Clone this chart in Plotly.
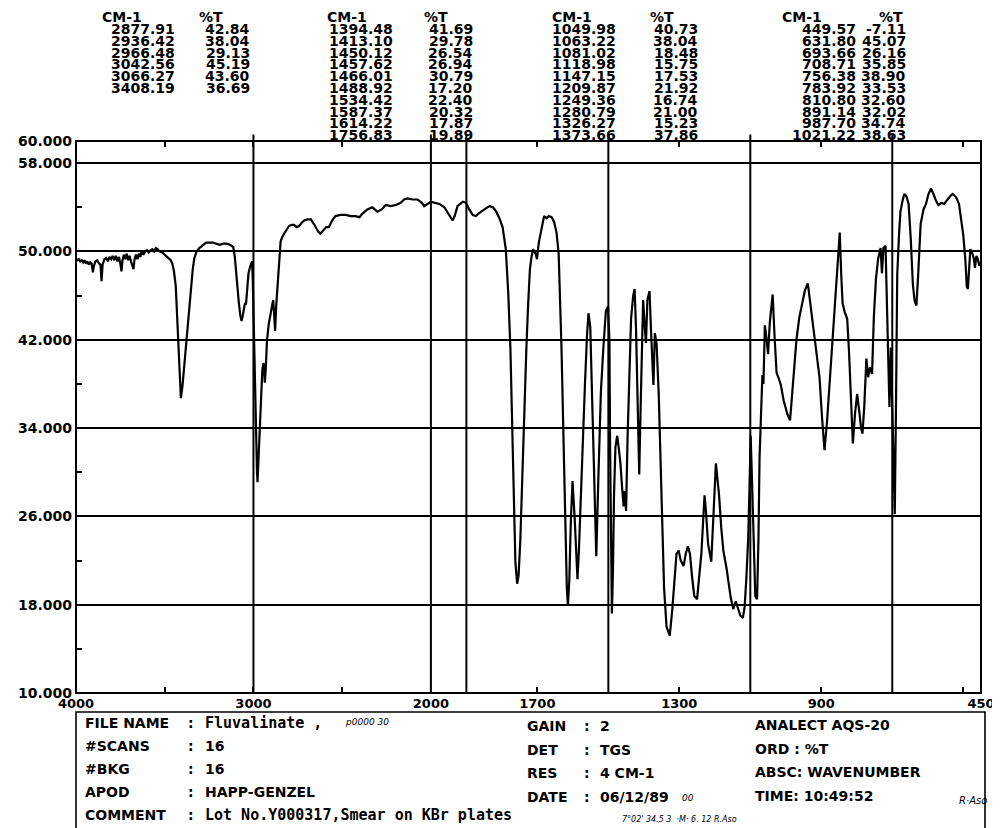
import plotly.graph_objects as go

# ---------------- spectrum (wavenumber cm-1, %T) ----------------
wavenumber = [
    4000, 3992, 3984, 3976, 3968, 3960, 3952, 3944, 3936, 3928, 3920, 3912, 3905, 3899, 3890,
    3880, 3870, 3862, 3856, 3850, 3840, 3830, 3820, 3812, 3802, 3794, 3784, 3776, 3766, 3758,
    3750, 3744, 3738, 3730, 3722, 3714, 3706, 3698, 3690, 3682, 3676, 3670, 3662, 3654, 3646,
    3638, 3630, 3620, 3610, 3600, 3590, 3580, 3570, 3560, 3550, 3540, 3528, 3514, 3500, 3488,
    3476, 3466, 3457, 3448, 3438, 3428, 3418, 3409, 3400, 3390, 3380, 3371, 3362, 3352, 3342,
    3333, 3320, 3305, 3285, 3267, 3248, 3228, 3210, 3190, 3170, 3152, 3132, 3114, 3105, 3099,
    3090, 3082, 3074, 3067, 3060, 3054, 3048, 3042, 3036, 3028, 3019, 3012, 3008, 3004, 2996,
    2990, 2985, 2980, 2977, 2972, 2967, 2961, 2956, 2950, 2943, 2936, 2930, 2924, 2914, 2905,
    2896, 2889, 2884, 2878, 2872, 2866, 2860, 2853, 2847, 2838, 2828, 2814, 2800, 2785, 2771,
    2757, 2743, 2728, 2714, 2695, 2676, 2660, 2647, 2635, 2623, 2605, 2590, 2575, 2557, 2538,
    2509, 2481, 2453, 2425, 2402, 2387, 2358, 2330, 2302, 2277, 2255, 2226, 2198, 2170, 2151,
    2132, 2104, 2075, 2051, 2038, 2019, 2000,
    1976, 1962, 1953, 1945, 1939, 1933, 1925, 1910, 1901, 1892, 1882, 1873, 1863, 1849, 1835,
    1825, 1816, 1807, 1798, 1789, 1782, 1776, 1771, 1766, 1762, 1757, 1753, 1748, 1743, 1737,
    1731, 1726, 1721, 1717, 1712, 1705, 1701, 1696, 1688, 1681, 1674, 1668, 1660, 1653, 1646,
    1640, 1632, 1627, 1622, 1617, 1614, 1610, 1606, 1601, 1595, 1590, 1587, 1583, 1578, 1572,
    1566, 1560, 1556, 1551, 1547, 1542, 1538, 1534, 1528, 1521, 1514, 1507, 1501, 1497, 1495,
    1493, 1490, 1487, 1484, 1480, 1475, 1470, 1466, 1461, 1457, 1454, 1450, 1446, 1441, 1436,
    1430, 1426, 1422, 1418, 1413, 1409, 1405, 1402, 1398, 1394, 1390, 1384, 1380, 1377, 1373,
    1369, 1364, 1358, 1353, 1348, 1343, 1336, 1327, 1320, 1314, 1308, 1302, 1296, 1288, 1282,
    1276, 1270, 1264, 1258, 1250, 1244, 1238, 1234, 1229, 1225, 1219, 1210, 1205, 1201, 1197,
    1193, 1188, 1182, 1176, 1167, 1160, 1155, 1148, 1141, 1135, 1128, 1121, 1116, 1111, 1106,
    1102, 1099, 1095, 1090, 1086, 1081, 1077, 1074, 1069, 1066, 1063, 1059, 1054, 1050, 1045,
    1037, 1032, 1026, 1021, 1014, 1006, 996, 988, 980, 970, 962, 955, 946, 938, 930,
    923, 914, 905, 898, 891, 884, 877, 870, 864, 858, 853, 848, 844, 840, 834,
    827, 822, 817, 811, 805, 799, 793, 788, 784, 779, 773, 768, 763, 757, 752,
    746, 740, 733, 729, 725, 719, 715, 711, 708, 704, 700, 696, 693, 690, 686,
    681, 677, 671, 666, 660, 654, 648, 642, 637, 632, 627, 620, 612, 605, 598,
    591, 584, 577, 570, 562, 554, 545, 537, 530, 520, 512, 506, 500, 494, 490,
    487, 484, 480, 475, 470, 467, 463, 459, 455, 450,
]
transmittance = [
    49.3, 49.2, 49.3, 49.1, 49.2, 49.0, 49.2, 48.9, 49.1, 48.8, 49.0, 48.9, 48.1, 48.7, 49.1,
    49.2, 48.9, 48.8, 47.3, 48.8, 49.3, 49.4, 49.1, 49.5, 49.3, 49.6, 49.2, 49.6, 49.1, 49.5,
    48.9, 48.2, 49.2, 49.7, 49.3, 49.8, 49.2, 49.6, 49.1, 48.7, 48.4, 49.3, 49.7, 49.3, 49.8,
    49.5, 50.0, 49.7, 50.0, 50.1, 49.9, 50.1, 50.2, 50.0, 50.3, 50.2, 50.0, 49.9, 49.7, 49.5,
    49.4, 49.2, 48.9, 48.2, 46.9, 43.6, 39.5, 36.7, 37.8, 39.6, 41.5, 43.3, 45.3, 46.9, 48.4,
    49.4, 50.0, 50.3, 50.6, 50.8, 50.8, 50.8, 50.7, 50.6, 50.7, 50.7, 50.6, 50.4, 49.5, 48.3,
    46.8, 45.3, 44.2, 43.7, 44.2, 44.9, 45.3, 45.2, 46.8, 48.0, 48.6, 48.9, 49.1, 47.6, 40.9,
    36.5, 32.6, 30.0, 29.1, 31.0, 34.3, 36.5, 37.9, 39.3, 39.9, 38.1, 39.5, 41.9, 43.4, 44.3,
    45.2, 45.6, 44.5, 42.8, 45.0, 46.6, 48.2, 50.0, 50.9, 51.3, 51.6, 52.0, 52.3, 52.4, 52.4,
    52.2, 52.3, 52.6, 52.8, 52.9, 52.9, 52.5, 52.1, 51.8, 51.6, 51.9, 52.2, 52.2, 52.8, 53.2,
    53.3, 53.3, 53.2, 53.2, 53.1, 53.4, 53.8, 54.0, 53.6, 53.8, 54.2, 54.1, 54.2, 54.4, 54.7,
    54.8, 54.7, 54.7, 54.4, 54.1, 54.3, 54.5,
    54.3, 54.0, 53.5, 53.1, 52.8, 53.2, 54.1, 54.5, 54.4, 53.8, 53.3, 53.2, 53.5, 53.8, 54.1,
    54.0, 53.6, 53.0, 52.2, 50.2, 46.2, 41.2, 34.5, 27.9, 21.9, 19.9, 20.6, 23.9, 29.6, 35.5,
    41.2, 45.2, 48.4, 49.4, 50.2, 49.8, 49.3, 50.8, 52.2, 53.2, 53.0, 53.2, 53.1, 52.7, 51.7,
    49.8, 41.2, 32.9, 24.6, 19.5, 17.9, 20.2, 25.2, 29.2, 25.9, 21.5, 20.3, 22.9, 27.9, 32.9,
    37.9, 42.5, 44.4, 43.2, 37.9, 31.2, 26.0, 22.4, 29.6, 37.3, 41.3, 44.6, 45.0, 42.0, 32.0,
    22.0, 17.2, 21.0, 28.0, 32.3, 33.3, 32.0, 30.8, 28.5, 26.9, 28.3, 26.5, 33.0, 38.5, 43.9,
    46.0, 46.6, 43.0, 36.0, 29.8, 36.0, 42.0, 45.6, 43.5, 41.7, 45.6, 46.4, 43.0, 39.9, 37.9,
    42.6, 41.6, 37.0, 31.3, 24.5, 19.5, 16.0, 15.2, 17.5, 20.5, 22.6, 22.9, 22.0, 21.5, 22.6,
    23.3, 22.6, 20.5, 18.8, 18.5, 20.5, 22.6, 24.9, 27.9, 26.5, 23.5, 21.9, 25.0, 27.9, 30.8,
    29.5, 27.9, 25.0, 22.9, 21.3, 19.5, 18.6, 17.6, 18.3, 17.7, 17.0, 16.8, 17.8, 20.5, 24.0,
    29.0, 33.3, 29.0, 22.0, 18.8, 18.5, 24.0, 31.3, 37.0, 38.8, 38.0, 43.3, 42.0, 40.7, 43.6,
    46.1, 42.5, 39.0, 38.6, 37.9, 36.5, 35.3, 34.7, 37.9, 42.0, 44.0, 45.2, 46.5, 47.1, 45.0,
    43.3, 41.0, 38.6, 35.0, 32.0, 34.5, 37.9, 41.0, 43.9, 46.5, 49.0, 51.7, 48.0, 45.3, 44.5,
    43.9, 41.0, 36.5, 32.6, 35.3, 37.1, 35.5, 34.0, 33.5, 35.9, 40.3, 38.6, 39.5, 38.9, 44.0,
    47.5, 49.3, 50.3, 48.0, 50.3, 50.5, 45.3, 38.0, 35.9, 41.3, 36.5, 30.0, 26.2, 34.6, 47.9,
    51.5, 53.6, 54.6, 55.2, 55.0, 54.3, 51.2, 47.0, 45.5, 45.1, 47.9, 52.5, 53.8, 54.3, 55.2,
    55.7, 55.2, 54.6, 54.2, 54.4, 54.3, 54.7, 55.0, 55.2, 54.9, 54.3, 53.0, 51.5, 49.2, 46.8,
    46.6, 48.5, 50.2, 49.9, 49.3, 48.5, 49.6, 49.3, 48.7, 49.0,
]

# ---------------- axes ----------------
split_cm = 2000
x_hi_range = [4000, 2000]
x_lo_range = [2000, 450]
x_hi_ticks = [4000, 3000, 2000]
x_hi_minor = [3500, 2500]
x_lo_ticks = [1700, 1300, 900, 450]
x_lo_minor = [500]
y_range = [10, 60]
y_tick_vals = [10, 18, 26, 34, 42, 50, 58, 60]
y_minor_vals = [14, 22, 30, 38, 46, 54]
marker_lines_cm = [3000, 2000, 1900, 1500, 1100, 700]

# ---------------- peak tables ----------------
peaks1_cm = ["2877.91", "2936.42", "2966.48", "3042.56", "3066.27", "3408.19"]
peaks1_t = ["42.84", "38.04", "29.13", "45.19", "43.60", "36.69"]
peaks2_cm = ["1394.48", "1413.10", "1450.12", "1457.62", "1466.01", "1488.92",
             "1534.42", "1587.37", "1614.22", "1756.83"]
peaks2_t = ["41.69", "29.78", "26.54", "26.94", "30.79", "17.20", "22.40", "20.32", "17.87", "19.89"]
peaks3_cm = ["1049.98", "1063.22", "1081.02", "1118.98", "1147.15", "1209.87",
             "1249.36", "1280.79", "1326.27", "1373.66"]
peaks3_t = ["40.73", "38.04", "18.48", "15.75", "17.53", "21.92", "16.74", "21.00", "15.23", "37.86"]
peaks4_cm = ["449.57", "631.80", "693.66", "708.71", "756.38", "783.92",
             "810.80", "891.14", "987.70", "1021.22"]
peaks4_t = ["-7.11", "45.07", "26.16", "35.85", "38.90", "33.53", "32.60", "32.02", "34.74", "38.63"]

# ---------------- info box ----------------
info_left_labels = ["FILE NAME", "#SCANS", "#BKG", "APOD", "COMMENT"]
info_left_values = ["Fluvalinate ,", "16", "16", "HAPP-GENZEL", "Lot No.Y000317,Smear on KBr plates"]
info_mid_labels = ["GAIN", "DET", "RES", "DATE"]
info_mid_values = ["2", "TGS", "4 CM-1", "06/12/89"]
info_right_lines = ["ANALECT AQS-20", "ORD : %T", "ABSC: WAVENUMBER", "TIME: 10:49:52"]

# ---------------- geometry (page pixels) ----------------
PAGE_W, PAGE_H = 1000, 828
BODY = 8                      # default page body margin around the figure
W, H = PAGE_W - BODY, PAGE_H - BODY
L, R, T, B = 76, 981, 141, 693      # plot area in page pixels
hi_span = (x_hi_range[0] - x_hi_range[1]) / 2.0      # half scale above 2000
lo_span = (x_lo_range[0] - x_lo_range[1]) * 1.0
SPLIT = hi_span / (hi_span + lo_span)

SANS = "DejaVu Sans"
MONO = "DejaVu Sans Mono"


def px(xp, yp):
    return (xp - L) / (R - L), (B - yp) / (B - T)


hi_w = [w for w in wavenumber if w >= split_cm]
hi_t = [t for w, t in zip(wavenumber, transmittance) if w >= split_cm]
lo_w = [w for w in wavenumber if w <= split_cm]
lo_t = [t for w, t in zip(wavenumber, transmittance) if w <= split_cm]

fig = go.Figure()
line_style = dict(color="black", width=2.2)
fig.add_trace(go.Scatter(x=hi_w, y=hi_t, xaxis="x", yaxis="y", mode="lines",
                         line=line_style, showlegend=False, hoverinfo="skip"))
fig.add_trace(go.Scatter(x=lo_w, y=lo_t, xaxis="x2", yaxis="y", mode="lines",
                         line=line_style, showlegend=False, hoverinfo="skip"))

tick_font = dict(family=SANS, size=13, color="black", weight="bold")

shapes = []
# plot frame
shapes.append(dict(type="rect", xref="paper", yref="paper", x0=0, x1=1, y0=0, y1=1,
                   line=dict(color="black", width=2), layer="above"))
# marker lines
for cm in marker_lines_cm:
    if cm == split_cm:
        ref, xv = "paper", SPLIT
    else:
        ref, xv = ("x" if cm > split_cm else "x2"), cm
    shapes.append(dict(type="line", xref=ref, yref="paper",
                       x0=xv, x1=xv, y0=0, y1=1.012,
                       line=dict(color="black", width=2), layer="above"))
# info box
bx0, by0 = px(76, 712)
bx1, by1 = px(985, 845)
shapes.append(dict(type="rect", xref="paper", yref="paper", x0=bx0, x1=bx1, y0=by1, y1=by0,
                   line=dict(color="black", width=1.6)))

annotations = []


def add_text(text, xp, yp, xanchor="left", size=15, family=SANS, weight="bold", style="normal"):
    x, y = px(xp, yp)
    annotations.append(dict(text=text, x=x, y=y, xref="paper", yref="paper",
                            xanchor=xanchor, yanchor="middle", showarrow=False,
                            font=dict(family=family, size=size, color="black",
                                      weight=weight, style=style)))


# peak tables: (cm list, %T list, cm right edge, %T right edge, header cm centre, header %T centre)
tables = [
    (peaks1_cm, peaks1_t, 177, 252, 122, 211),
    (peaks2_cm, peaks2_t, 395, 475, 347, 436),
    (peaks3_cm, peaks3_t, 618, 700, 572, 662),
    (peaks4_cm, peaks4_t, 858, 908, 802, 891),
]
header_y, row0_y, row_dy = 17, 29, 11.8
for cms, ts, cm_r, t_r, h_cm, h_t in tables:
    add_text("CM-1", h_cm, header_y, xanchor="center", size=14)
    add_text("%T", h_t, header_y, xanchor="center", size=14)
    for i, (c, t) in enumerate(zip(cms, ts)):
        add_text(c, cm_r, row0_y + i * row_dy, xanchor="right", size=14)
        add_text(t, t_r, row0_y + i * row_dy, xanchor="right", size=14)

# info box text
left_rows = [723, 746, 769, 792, 815]
for i, (lab, val) in enumerate(zip(info_left_labels, info_left_values)):
    add_text(lab, 83, left_rows[i], size=14)
    add_text(":", 186, left_rows[i], size=14)
    fam = MONO if i in (0, 4) else SANS
    add_text(val, 203, left_rows[i], size=15 if fam == MONO else 14, family=fam)
add_text("p0000 30", 343, 722, size=9, weight="normal", style="italic")

mid_rows = [726, 750, 773, 797]
for i, (lab, val) in enumerate(zip(info_mid_labels, info_mid_values)):
    add_text(lab, 525, mid_rows[i], size=14)
    add_text(":", 582, mid_rows[i], size=14)
    add_text(val, 598, mid_rows[i], size=14)
add_text("00", 680, 798, size=9, weight="normal", style="italic")

right_rows = [725, 749, 772, 796]
for i, txt in enumerate(info_right_lines):
    add_text(txt, 753, right_rows[i], size=14)
add_text("R·Aso", 957, 800, size=10, weight="normal", style="italic")
add_text("7°02' 34.5 3  ·M· 6. 12 R.Aso", 620, 819, size=8, weight="normal", style="italic")

axis_common = dict(automargin=False, showgrid=False, zeroline=False, showline=False)

fig.update_layout(
    template=None,
    width=W, height=H,
    margin=dict(l=L - BODY, r=W - (R - BODY), t=T - BODY, b=H - (B - BODY),
                pad=0, autoexpand=False),
    paper_bgcolor="white", plot_bgcolor="white",
    showlegend=False,
    xaxis=dict(domain=[0, SPLIT], range=x_hi_range, anchor="y",
               tickmode="array", tickvals=x_hi_ticks, ticktext=[str(v) for v in x_hi_ticks],
               ticks="inside", ticklen=6, tickwidth=2, tickcolor="black", mirror="ticks",
               minor=dict(tickmode="array", tickvals=x_hi_minor, ticks="inside", ticklen=6,
                          tickwidth=2, tickcolor="black", showgrid=False),
               tickfont=tick_font, ticklabelstandoff=1, **axis_common),
    xaxis2=dict(domain=[SPLIT, 1], range=x_lo_range, anchor="y",
                tickmode="array", tickvals=x_lo_ticks, ticktext=[str(v) for v in x_lo_ticks],
                ticks="inside", ticklen=6, tickwidth=2, tickcolor="black", mirror="ticks",
                minor=dict(tickmode="array", tickvals=x_lo_minor, ticks="inside", ticklen=6,
                           tickwidth=2, tickcolor="black", showgrid=False),
                tickfont=tick_font, ticklabelstandoff=1, **axis_common),
    yaxis=dict(range=y_range, anchor="x",
               tickmode="array", tickvals=y_tick_vals,
               ticktext=["%.3f" % v for v in y_tick_vals],
               ticks="", showgrid=True, gridcolor="black", gridwidth=1.6,
               minor=dict(tickmode="array", tickvals=y_minor_vals, ticks="inside", ticklen=6,
                          tickwidth=2, tickcolor="black", showgrid=False),
               zeroline=False, showline=False, automargin=False,
               tickfont=dict(family=SANS, size=14, color="black", weight="bold"),
               ticklabelstandoff=3),
    yaxis3=dict(range=y_range, overlaying="y", anchor="free", position=1, side="right",
                tickmode="array", tickvals=y_minor_vals, ticks="inside", ticklen=6,
                tickwidth=2, tickcolor="black", showticklabels=False, **axis_common),
    shapes=shapes,
    annotations=annotations,
)

fig.write_html("out.html")
